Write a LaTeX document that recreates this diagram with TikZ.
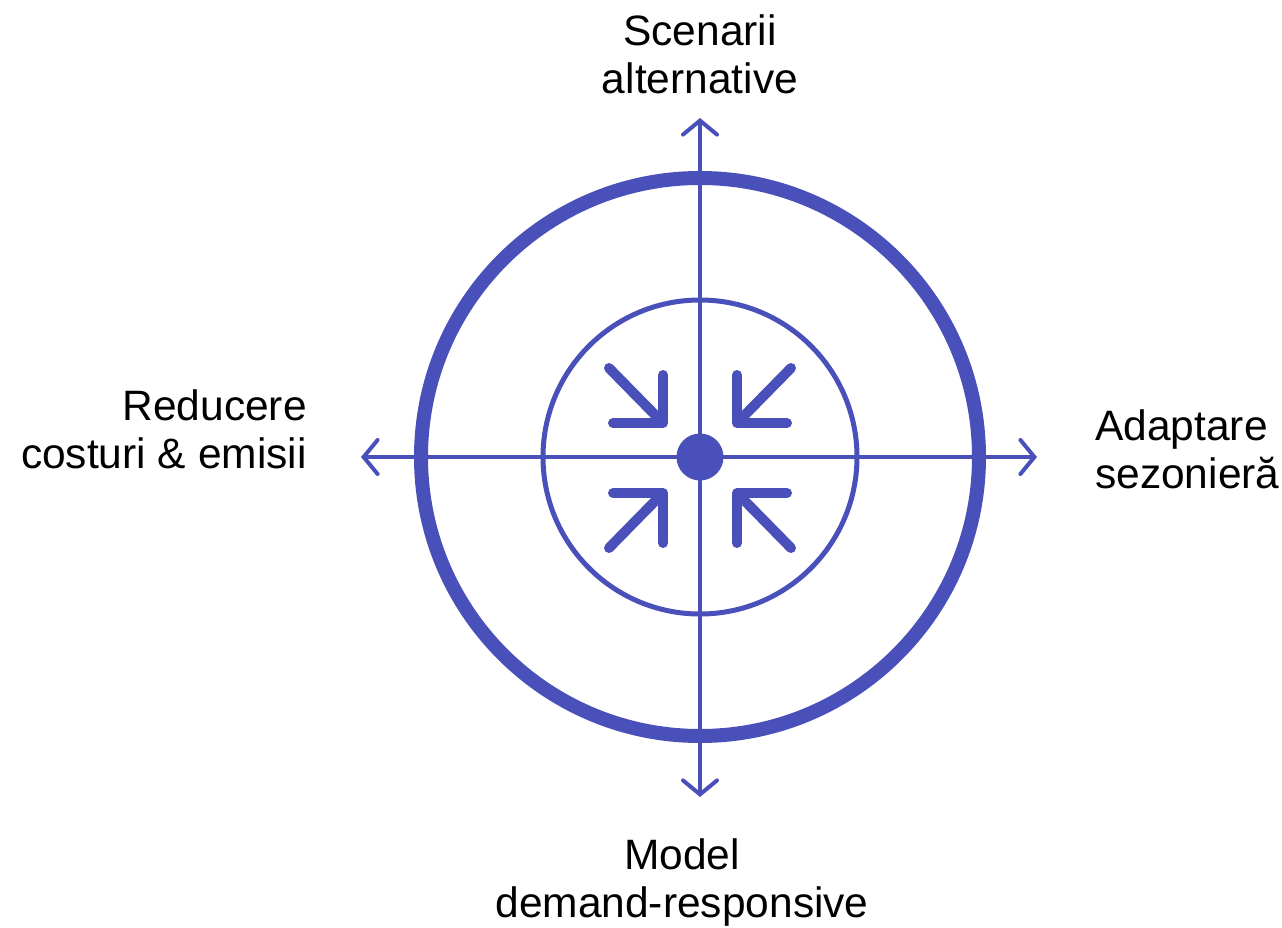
\documentclass[tikz,border=0pt]{standalone}
\usepackage{fontspec}
\setmainfont{Liberation Sans}
\usetikzlibrary{arrows.meta}
\definecolor{ink}{RGB}{74,80,186}
\begin{document}
\begin{tikzpicture}[x=1pt,y=-1pt,
  axis/.style={draw=ink,line width=4pt,{Straight Barb[length=14pt,width=34pt,line cap=round]}-{Straight Barb[length=14pt,width=34pt,line cap=round]}},
  icon/.style={draw=ink,line width=10pt,line cap=round,line join=round},
  lbl/.style={inner sep=0pt,font=\fontsize{42.5}{48}\selectfont}]
\useasboundingbox (0,0) rectangle (1282,928);
% circles
\node[circle,draw=ink,line width=14pt,minimum size=558pt,inner sep=0pt] (outer) at (700,457) {};
\node[circle,draw=ink,line width=5pt,minimum size=314pt,inner sep=0pt] (inner) at (700,457) {};
% axes
\coordinate (L) at (361,457);
\coordinate (R) at (1037,457);
\coordinate (T) at (700,118);
\coordinate (B) at (700,797);
\draw[axis] (L) -- (R);
\draw[axis] (B) -- (T);
% center dot
\node[circle,fill=ink,minimum size=47pt,inner sep=0pt] (c) at (700,457) {};
% inward arrows
\draw[icon] (609,368) -- (661,421);
\draw[icon] (663,375) -- (663,423) -- (613,423);
\draw[icon] (791,368) -- (739,421);
\draw[icon] (737,375) -- (737,423) -- (787,423);
\draw[icon] (609,548) -- (661,495);
\draw[icon] (663,543) -- (663,493) -- (613,493);
\draw[icon] (791,548) -- (739,495);
\draw[icon] (737,543) -- (737,493) -- (787,493);
% labels
\node[lbl,anchor=north,align=center] (top) at (700,15) {Scenarii\\alternative};
\node[lbl,anchor=north,align=center] (bot) at (682,838) {Model\\demand-responsive};
\node[lbl,anchor=north east,align=right] (left) at (307,390) {Reducere\\costuri \& emisii};
\node[lbl,anchor=north west,align=left] (right) at (1095,410) {Adaptare\\sezonieră};
\end{tikzpicture}
\end{document}
